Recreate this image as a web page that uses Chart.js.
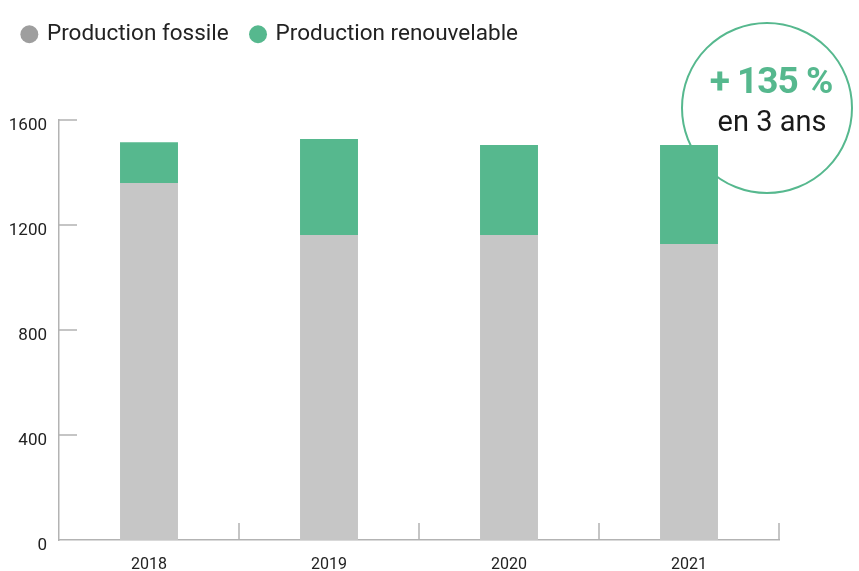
<!DOCTYPE html>
<html>
<head>
<meta charset="utf-8">
<script src="https://cdn.jsdelivr.net/npm/chart.js@4"></script>
<style>
    html, body { margin: 0; padding: 0; background: #fff; }
    #wrap { width: 859px; height: 571px; position: relative; }
</style>
</head>
<body>
<div id="wrap"><canvas id="energyChart"></canvas></div>
<script>
// Data
const years = ['2018', '2019', '2020', '2021'];
const fossile = [1360, 1162, 1162, 1128];
const renouvelable = [155, 366, 343, 377];
const yTicks = [0, 400, 800, 1200, 1600];

const GREEN = '#56b88e';
const GREY = '#c6c6c6';
const AXIS = '#b3b3b3';
const FONT = 'Roboto, "Liberation Sans", sans-serif';

// Small inward tick marks on both axes
const tickMarks = {
    id: 'tickMarks',
    afterDraw(chart) {
        const { ctx, chartArea, scales } = chart;
        ctx.save();
        ctx.strokeStyle = AXIS;
        ctx.lineWidth = 1.5;
        ctx.beginPath();
        yTicks.forEach(v => {
            if (v === 0) return;
            const y = scales.y.getPixelForValue(v);
            ctx.moveTo(chartArea.left, y);
            ctx.lineTo(chartArea.left + 18, y);
        });
        const step = scales.x.getPixelForValue(1) - scales.x.getPixelForValue(0);
        for (let i = 0; i < years.length; i++) {
            const x = scales.x.getPixelForValue(i) + step / 2;
            ctx.moveTo(x, chartArea.bottom);
            ctx.lineTo(x, chartArea.bottom - 17);
        }
        ctx.stroke();
        ctx.restore();
    }
};

// "+ 135 %" callout circle, drawn under the bars
const callout = {
    id: 'callout',
    beforeDatasetsDraw(chart) {
        const ctx = chart.ctx;
        const cx = 767, cy = 108, r = 85;
        ctx.save();
        ctx.beginPath();
        ctx.arc(cx, cy, r, 0, Math.PI * 2);
        ctx.fillStyle = '#fff';
        ctx.fill();
        ctx.strokeStyle = GREEN;
        ctx.lineWidth = 2;
        ctx.stroke();
        ctx.textAlign = 'center';
        ctx.textBaseline = 'middle';
        ctx.fillStyle = GREEN;
        ctx.font = 'bold 37px ' + FONT;
        ctx.letterSpacing = '-1px';
        ctx.fillText('+ 135 %', cx + 4, 84);
        ctx.letterSpacing = '0px';
        ctx.fillStyle = '#1a1a1a';
        ctx.font = '29px ' + FONT;
        ctx.fillText('en 3 ans', cx + 5, 124);
        ctx.restore();
    }
};

// Legend takes the whole band above the plot
const legendBand = {
    id: 'legendBand',
    beforeInit(chart) {
        const fit = chart.legend.fit;
        chart.legend.fit = function () {
            fit.bind(chart.legend)();
            this.height = 120;
        };
    }
};

new Chart(document.getElementById('energyChart'), {
    type: 'bar',
    data: {
        labels: years,
        datasets: [{
            label: 'Production fossile',
            data: fossile,
            backgroundColor: GREY,
            pointStyle: 'circle',
            barPercentage: 0.322,
            categoryPercentage: 1
        }, {
            label: 'Production renouvelable',
            data: renouvelable,
            backgroundColor: GREEN,
            pointStyle: 'circle',
            barPercentage: 0.322,
            categoryPercentage: 1
        }]
    },
    options: {
        responsive: true,
        maintainAspectRatio: false,
        animation: false,
        layout: { padding: { left: 0, right: 80, top: 0, bottom: 0 } },
        scales: {
            x: {
                stacked: true,
                grid: { display: false, drawTicks: false },
                border: { display: true, color: AXIS, width: 1.5 },
                ticks: { color: '#222', padding: 15, font: { family: FONT, size: 16 } },
                afterFit(s) { s.height = 31; }
            },
            y: {
                stacked: true,
                min: 0,
                max: 1600,
                grid: { display: false, drawTicks: false },
                border: { display: true, color: AXIS, width: 1.5 },
                ticks: {
                    stepSize: 400,
                    color: '#222',
                    padding: 12,
                    labelOffset: 6,
                    font: { family: FONT, size: 17 },
                    callback: v => String(v)
                },
                afterFit(s) { s.width = 59; }
            }
        },
        plugins: {
            legend: {
                position: 'top',
                align: 'start',
                labels: {
                    usePointStyle: true,
                    boxWidth: 12.7,
                    boxHeight: 12.7,
                    padding: 23,
                    color: '#222',
                    font: { family: FONT, size: 22.5 },
                    generateLabels(chart) {
                        const items = Chart.defaults.plugins.legend.labels.generateLabels(chart);
                        items[0].fillStyle = '#9e9e9e';
                        items[0].strokeStyle = '#9e9e9e';
                        return items;
                    }
                }
            },
            tooltip: { enabled: false }
        }
    },
    plugins: [legendBand, callout, tickMarks]
});
</script>
</body>
</html>
